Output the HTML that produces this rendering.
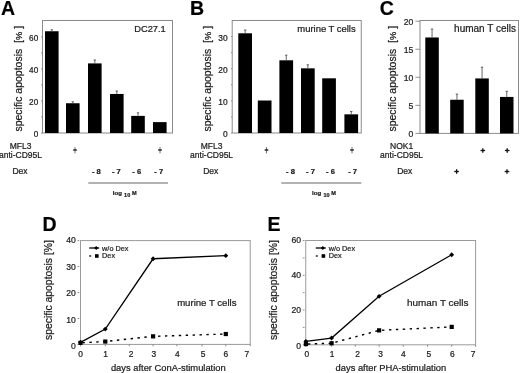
<!DOCTYPE html>
<html><head><meta charset="utf-8"><style>
html,body{margin:0;padding:0;background:#fff;width:520px;height:373px;overflow:hidden}
svg{display:block;filter:blur(0.3px)}
text{font-family:"Liberation Sans", sans-serif;stroke:#222;stroke-width:0.22px;paint-order:stroke}
</style></head><body>
<svg width="520" height="373" viewBox="0 0 520 373">
<rect width="520" height="373" fill="#fff"/>
<text x="1" y="15" font-size="19.5" text-anchor="start" font-weight="bold" fill="#000" >A</text>
<text x="190" y="15" font-size="19.5" text-anchor="start" font-weight="bold" fill="#000" >B</text>
<text x="379.7" y="15" font-size="19.5" text-anchor="start" font-weight="bold" fill="#000" >C</text>
<text x="42.5" y="231" font-size="19.5" text-anchor="start" font-weight="bold" fill="#000" >D</text>
<text x="267.5" y="231" font-size="19.5" text-anchor="start" font-weight="bold" fill="#000" >E</text>
<rect x="42.5" y="20.5" width="130.0" height="112.5" fill="none" stroke="#8a8a8a" stroke-width="1"/>
<line x1="41.0" y1="117.0" x2="42.5" y2="117.0" stroke="#777" stroke-width="0.8" />
<line x1="41.0" y1="85.0" x2="42.5" y2="85.0" stroke="#777" stroke-width="0.8" />
<line x1="41.0" y1="53.0" x2="42.5" y2="53.0" stroke="#777" stroke-width="0.8" />
<line x1="41.0" y1="133.0" x2="42.5" y2="133.0" stroke="#777" stroke-width="0.8" />
<text x="38.2" y="136.9" font-size="8.2" text-anchor="end" font-weight="normal" fill="#1a1a1a" >0</text>
<line x1="41.0" y1="101.0" x2="42.5" y2="101.0" stroke="#777" stroke-width="0.8" />
<text x="38.2" y="104.9" font-size="8.2" text-anchor="end" font-weight="normal" fill="#1a1a1a" >20</text>
<line x1="41.0" y1="69.0" x2="42.5" y2="69.0" stroke="#777" stroke-width="0.8" />
<text x="38.2" y="72.9" font-size="8.2" text-anchor="end" font-weight="normal" fill="#1a1a1a" >40</text>
<line x1="41.0" y1="37.0" x2="42.5" y2="37.0" stroke="#777" stroke-width="0.8" />
<text x="38.2" y="40.9" font-size="8.2" text-anchor="end" font-weight="normal" fill="#1a1a1a" >60</text>
<rect x="45" y="31.239999999999995" width="13.6" height="101.76" fill="#000"/>
<line x1="51.8" y1="29.799999999999997" x2="51.8" y2="31.239999999999995" stroke="#555" stroke-width="0.9" />
<line x1="50.599999999999994" y1="29.799999999999997" x2="53.0" y2="29.799999999999997" stroke="#555" stroke-width="0.9" />
<rect x="66" y="103.24" width="13.6" height="29.760000000000005" fill="#000"/>
<line x1="72.8" y1="101.8" x2="72.8" y2="103.24" stroke="#555" stroke-width="0.9" />
<line x1="71.6" y1="101.8" x2="74.0" y2="101.8" stroke="#555" stroke-width="0.9" />
<rect x="88" y="63.39999999999999" width="13.6" height="69.60000000000001" fill="#000"/>
<line x1="94.8" y1="60.03999999999999" x2="94.8" y2="63.39999999999999" stroke="#555" stroke-width="0.9" />
<line x1="93.6" y1="60.03999999999999" x2="96.0" y2="60.03999999999999" stroke="#555" stroke-width="0.9" />
<rect x="110" y="93.96000000000001" width="13.6" height="39.03999999999999" fill="#000"/>
<line x1="116.8" y1="91.08" x2="116.8" y2="93.96000000000001" stroke="#555" stroke-width="0.9" />
<line x1="115.6" y1="91.08" x2="118.0" y2="91.08" stroke="#555" stroke-width="0.9" />
<rect x="131.2" y="115.88" width="13.6" height="17.120000000000005" fill="#000"/>
<line x1="138.0" y1="112.84" x2="138.0" y2="115.88" stroke="#555" stroke-width="0.9" />
<line x1="136.8" y1="112.84" x2="139.2" y2="112.84" stroke="#555" stroke-width="0.9" />
<rect x="153" y="122.12" width="13.6" height="10.879999999999995" fill="#000"/>
<text x="165.8" y="31.6" font-size="9.3" text-anchor="end" font-weight="normal" fill="#1a1a1a" >DC27.1</text>
<rect x="232.2" y="20.5" width="129.05" height="112.5" fill="none" stroke="#8a8a8a" stroke-width="1"/>
<line x1="231.0" y1="116.91666666666666" x2="232.2" y2="116.91666666666666" stroke="#777" stroke-width="0.8" />
<line x1="231.0" y1="84.75" x2="232.2" y2="84.75" stroke="#777" stroke-width="0.8" />
<line x1="231.0" y1="52.58333333333333" x2="232.2" y2="52.58333333333333" stroke="#777" stroke-width="0.8" />
<line x1="231.0" y1="133.0" x2="232.2" y2="133.0" stroke="#777" stroke-width="0.8" />
<text x="227.7" y="137.1" font-size="8.4" text-anchor="end" font-weight="normal" fill="#1a1a1a" >0</text>
<line x1="231.0" y1="100.83333333333333" x2="232.2" y2="100.83333333333333" stroke="#777" stroke-width="0.8" />
<text x="227.7" y="104.93333333333332" font-size="8.4" text-anchor="end" font-weight="normal" fill="#1a1a1a" >10</text>
<line x1="231.0" y1="68.66666666666666" x2="232.2" y2="68.66666666666666" stroke="#777" stroke-width="0.8" />
<text x="227.7" y="72.76666666666665" font-size="8.4" text-anchor="end" font-weight="normal" fill="#1a1a1a" >20</text>
<line x1="231.0" y1="36.5" x2="232.2" y2="36.5" stroke="#777" stroke-width="0.8" />
<text x="227.7" y="40.6" font-size="8.4" text-anchor="end" font-weight="normal" fill="#1a1a1a" >30</text>
<rect x="238.3" y="33.28333333333333" width="13.7" height="99.71666666666667" fill="#000"/>
<line x1="245.15" y1="30.066666666666663" x2="245.15" y2="33.28333333333333" stroke="#555" stroke-width="0.9" />
<line x1="243.95000000000002" y1="30.066666666666663" x2="246.35" y2="30.066666666666663" stroke="#555" stroke-width="0.9" />
<rect x="257.8" y="100.51166666666666" width="13.7" height="32.488333333333344" fill="#000"/>
<rect x="279.4" y="60.30333333333333" width="13.7" height="72.69666666666667" fill="#000"/>
<line x1="286.25" y1="55.156666666666666" x2="286.25" y2="60.30333333333333" stroke="#555" stroke-width="0.9" />
<line x1="285.05" y1="55.156666666666666" x2="287.45" y2="55.156666666666666" stroke="#555" stroke-width="0.9" />
<rect x="301" y="68.345" width="13.7" height="64.655" fill="#000"/>
<line x1="307.85" y1="64.80666666666667" x2="307.85" y2="68.345" stroke="#555" stroke-width="0.9" />
<line x1="306.65000000000003" y1="64.80666666666667" x2="309.05" y2="64.80666666666667" stroke="#555" stroke-width="0.9" />
<rect x="322.2" y="78.31666666666666" width="13.7" height="54.68333333333334" fill="#000"/>
<rect x="344.4" y="114.34333333333333" width="13.7" height="18.656666666666666" fill="#000"/>
<line x1="351.25" y1="111.44833333333332" x2="351.25" y2="114.34333333333333" stroke="#555" stroke-width="0.9" />
<line x1="350.05" y1="111.44833333333332" x2="352.45" y2="111.44833333333332" stroke="#555" stroke-width="0.9" />
<text x="355.7" y="31.6" font-size="9.45" text-anchor="end" font-weight="normal" fill="#1a1a1a" >murine T cells</text>
<rect x="420" y="20.5" width="98.5" height="112.9" fill="none" stroke="#8a8a8a" stroke-width="1"/>
<line x1="415.4" y1="133.4" x2="420" y2="133.4" stroke="#777" stroke-width="0.8" />
<text x="413.4" y="137.3" font-size="8.6" text-anchor="end" font-weight="normal" fill="#1a1a1a" >0</text>
<line x1="415.4" y1="105.35000000000001" x2="420" y2="105.35000000000001" stroke="#777" stroke-width="0.8" />
<text x="413.4" y="109.25000000000001" font-size="8.6" text-anchor="end" font-weight="normal" fill="#1a1a1a" >5</text>
<line x1="415.4" y1="77.30000000000001" x2="420" y2="77.30000000000001" stroke="#777" stroke-width="0.8" />
<text x="413.4" y="81.20000000000002" font-size="8.6" text-anchor="end" font-weight="normal" fill="#1a1a1a" >10</text>
<line x1="415.4" y1="49.25" x2="420" y2="49.25" stroke="#777" stroke-width="0.8" />
<text x="413.4" y="53.15" font-size="8.6" text-anchor="end" font-weight="normal" fill="#1a1a1a" >15</text>
<line x1="415.4" y1="21.200000000000003" x2="420" y2="21.200000000000003" stroke="#777" stroke-width="0.8" />
<text x="413.4" y="25.1" font-size="8.6" text-anchor="end" font-weight="normal" fill="#1a1a1a" >20</text>
<rect x="425.3" y="37.468999999999994" width="13.5" height="95.93100000000001" fill="#000"/>
<line x1="432.05" y1="29.053999999999988" x2="432.05" y2="37.468999999999994" stroke="#555" stroke-width="0.9" />
<line x1="430.85" y1="29.053999999999988" x2="433.25" y2="29.053999999999988" stroke="#555" stroke-width="0.9" />
<rect x="450.2" y="99.74000000000001" width="13.5" height="33.66" fill="#000"/>
<line x1="456.95" y1="94.13" x2="456.95" y2="99.74000000000001" stroke="#555" stroke-width="0.9" />
<line x1="455.75" y1="94.13" x2="458.15" y2="94.13" stroke="#555" stroke-width="0.9" />
<rect x="475.3" y="78.422" width="13.5" height="54.97800000000001" fill="#000"/>
<line x1="482.05" y1="67.202" x2="482.05" y2="78.422" stroke="#555" stroke-width="0.9" />
<line x1="480.85" y1="67.202" x2="483.25" y2="67.202" stroke="#555" stroke-width="0.9" />
<rect x="500" y="96.935" width="13.5" height="36.465" fill="#000"/>
<line x1="506.75" y1="91.325" x2="506.75" y2="96.935" stroke="#555" stroke-width="0.9" />
<line x1="505.55" y1="91.325" x2="507.95" y2="91.325" stroke="#555" stroke-width="0.9" />
<text x="516" y="31.6" font-size="10" text-anchor="end" font-weight="normal" fill="#1a1a1a" >human T cells</text>
<text transform="translate(21.7,131.6) rotate(-90)" x="0" y="0" font-size="10.5" text-anchor="start" fill="#1a1a1a">specific apoptosis&#160; [<tspan font-size="9.3">%</tspan> ]</text>
<text transform="translate(210.7,131.6) rotate(-90)" x="0" y="0" font-size="10.5" text-anchor="start" fill="#1a1a1a">specific apoptosis&#160; [<tspan font-size="9.3">%</tspan> ]</text>
<text transform="translate(395.7,131.6) rotate(-90)" x="0" y="0" font-size="10.5" text-anchor="start" fill="#1a1a1a">specific apoptosis&#160; [<tspan font-size="9.3">%</tspan> ]</text>
<text transform="translate(52.3,340.0) rotate(-90)" x="0" y="0" font-size="10.4" text-anchor="start" fill="#1a1a1a">specific apoptosis [%]</text>
<text transform="translate(277.3,340.0) rotate(-90)" x="0" y="0" font-size="10.4" text-anchor="start" fill="#1a1a1a">specific apoptosis [%]</text>
<text x="20.5" y="148.9" font-size="8.5" text-anchor="middle" font-weight="normal" fill="#1a1a1a" >MFL3</text>
<text x="20.5" y="158.3" font-size="8.5" text-anchor="middle" font-weight="normal" fill="#1a1a1a" >anti-CD95L</text>
<text x="20" y="174.4" font-size="8.5" text-anchor="middle" font-weight="normal" fill="#1a1a1a" >Dex</text>
<text x="211.6" y="148.9" font-size="8.5" text-anchor="middle" font-weight="normal" fill="#1a1a1a" >MFL3</text>
<text x="211.6" y="158.3" font-size="8.5" text-anchor="middle" font-weight="normal" fill="#1a1a1a" >anti-CD95L</text>
<text x="210.8" y="174.4" font-size="8.5" text-anchor="middle" font-weight="normal" fill="#1a1a1a" >Dex</text>
<text x="401.6" y="148.9" font-size="8.5" text-anchor="middle" font-weight="normal" fill="#1a1a1a" >NOK1</text>
<text x="401.6" y="158.3" font-size="8.5" text-anchor="middle" font-weight="normal" fill="#1a1a1a" >anti-CD95L</text>
<text x="404.8" y="174.4" font-size="8.5" text-anchor="middle" font-weight="normal" fill="#1a1a1a" >Dex</text>
<line x1="75" y1="147" x2="75" y2="153.4" stroke="#666" stroke-width="0.9" />
<line x1="73.2" y1="150" x2="76.8" y2="150" stroke="#222" stroke-width="1.5" />
<line x1="160" y1="147" x2="160" y2="153.4" stroke="#666" stroke-width="0.9" />
<line x1="158.2" y1="150" x2="161.8" y2="150" stroke="#222" stroke-width="1.5" />
<line x1="266.5" y1="147" x2="266.5" y2="153.4" stroke="#666" stroke-width="0.9" />
<line x1="264.7" y1="150" x2="268.3" y2="150" stroke="#222" stroke-width="1.5" />
<line x1="352" y1="147" x2="352" y2="153.4" stroke="#666" stroke-width="0.9" />
<line x1="350.2" y1="150" x2="353.8" y2="150" stroke="#222" stroke-width="1.5" />
<line x1="480.5" y1="150.5" x2="485.1" y2="150.5" stroke="#111" stroke-width="1.3" />
<line x1="482.8" y1="148.2" x2="482.8" y2="152.8" stroke="#111" stroke-width="1.3" />
<line x1="504.9" y1="150.5" x2="509.5" y2="150.5" stroke="#111" stroke-width="1.3" />
<line x1="507.2" y1="148.2" x2="507.2" y2="152.8" stroke="#111" stroke-width="1.3" />
<line x1="454.3" y1="171.5" x2="458.90000000000003" y2="171.5" stroke="#111" stroke-width="1.3" />
<line x1="456.6" y1="169.2" x2="456.6" y2="173.8" stroke="#111" stroke-width="1.3" />
<line x1="504.7" y1="171.5" x2="509.3" y2="171.5" stroke="#111" stroke-width="1.3" />
<line x1="507" y1="169.2" x2="507" y2="173.8" stroke="#111" stroke-width="1.3" />
<text x="91.9" y="174.1" font-size="7.6" text-anchor="start" font-weight="bold" fill="#1a1a1a" >- 8</text>
<text x="111.9" y="174.1" font-size="7.6" text-anchor="start" font-weight="bold" fill="#1a1a1a" >- 7</text>
<text x="132.3" y="174.1" font-size="7.6" text-anchor="start" font-weight="bold" fill="#1a1a1a" >- 6</text>
<text x="154.3" y="174.1" font-size="7.6" text-anchor="start" font-weight="bold" fill="#1a1a1a" >- 7</text>
<text x="286.1" y="174.1" font-size="7.6" text-anchor="start" font-weight="bold" fill="#1a1a1a" >- 8</text>
<text x="306.0" y="174.1" font-size="7.6" text-anchor="start" font-weight="bold" fill="#1a1a1a" >- 7</text>
<text x="326.1" y="174.1" font-size="7.6" text-anchor="start" font-weight="bold" fill="#1a1a1a" >- 6</text>
<text x="348.2" y="174.1" font-size="7.6" text-anchor="start" font-weight="bold" fill="#1a1a1a" >- 7</text>
<line x1="88.3" y1="183" x2="168" y2="183" stroke="#999" stroke-width="1.4" />
<line x1="281.3" y1="183" x2="361.3" y2="183" stroke="#999" stroke-width="1.4" />
<text x="112.8" y="194.6" font-size="6.1" text-anchor="start" font-weight="bold" fill="#1a1a1a" >log</text>
<text x="124.1" y="196.9" font-size="5.5" text-anchor="start" font-weight="bold" fill="#1a1a1a" >10</text>
<text x="131.9" y="194.6" font-size="5.6" text-anchor="start" font-weight="bold" fill="#1a1a1a" >M</text>
<text x="312.0" y="194.6" font-size="6.1" text-anchor="start" font-weight="bold" fill="#1a1a1a" >log</text>
<text x="323.4" y="196.9" font-size="5.5" text-anchor="start" font-weight="bold" fill="#1a1a1a" >10</text>
<text x="331.3" y="194.6" font-size="5.6" text-anchor="start" font-weight="bold" fill="#1a1a1a" >M</text>
<rect x="80.5" y="240.6" width="169.7" height="103.79999999999998" fill="none" stroke="#9a9a9a" stroke-width="1"/>
<line x1="77.5" y1="344.4" x2="79.3" y2="344.4" stroke="#777" stroke-width="0.8" />
<line x1="77.5" y1="318.45" x2="79.3" y2="318.45" stroke="#777" stroke-width="0.8" />
<line x1="77.5" y1="292.5" x2="79.3" y2="292.5" stroke="#777" stroke-width="0.8" />
<line x1="77.5" y1="266.54999999999995" x2="79.3" y2="266.54999999999995" stroke="#777" stroke-width="0.8" />
<line x1="77.5" y1="240.6" x2="79.3" y2="240.6" stroke="#777" stroke-width="0.8" />
<text x="75.7" y="243.1" font-size="8.6" text-anchor="end" font-weight="normal" fill="#1a1a1a" >40</text>
<text x="75.7" y="269.5" font-size="8.6" text-anchor="end" font-weight="normal" fill="#1a1a1a" >30</text>
<text x="75.7" y="295.90000000000003" font-size="8.6" text-anchor="end" font-weight="normal" fill="#1a1a1a" >20</text>
<text x="75.7" y="322.70000000000005" font-size="8.6" text-anchor="end" font-weight="normal" fill="#1a1a1a" >10</text>
<text x="75.7" y="349.1" font-size="8.6" text-anchor="end" font-weight="normal" fill="#1a1a1a" >0</text>
<line x1="80.5" y1="344.4" x2="80.5" y2="346.4" stroke="#777" stroke-width="0.8" />
<line x1="105.3" y1="344.4" x2="105.3" y2="346.4" stroke="#777" stroke-width="0.8" />
<line x1="129.3" y1="344.4" x2="129.3" y2="346.4" stroke="#777" stroke-width="0.8" />
<line x1="153.1" y1="344.4" x2="153.1" y2="346.4" stroke="#777" stroke-width="0.8" />
<line x1="176.9" y1="344.4" x2="176.9" y2="346.4" stroke="#777" stroke-width="0.8" />
<line x1="202" y1="344.4" x2="202" y2="346.4" stroke="#777" stroke-width="0.8" />
<line x1="225.8" y1="344.4" x2="225.8" y2="346.4" stroke="#777" stroke-width="0.8" />
<line x1="250.2" y1="344.4" x2="250.2" y2="346.4" stroke="#777" stroke-width="0.8" />
<text x="80.5" y="357.3" font-size="8.4" text-anchor="middle" font-weight="normal" fill="#1a1a1a" >0</text>
<text x="105.5" y="357.3" font-size="8.4" text-anchor="middle" font-weight="normal" fill="#1a1a1a" >1</text>
<text x="131.1" y="357.3" font-size="8.4" text-anchor="middle" font-weight="normal" fill="#1a1a1a" >2</text>
<text x="153.9" y="357.3" font-size="8.4" text-anchor="middle" font-weight="normal" fill="#1a1a1a" >3</text>
<text x="177.3" y="357.3" font-size="8.4" text-anchor="middle" font-weight="normal" fill="#1a1a1a" >4</text>
<text x="203" y="357.3" font-size="8.4" text-anchor="middle" font-weight="normal" fill="#1a1a1a" >5</text>
<text x="225.8" y="357.3" font-size="8.4" text-anchor="middle" font-weight="normal" fill="#1a1a1a" >6</text>
<text x="246.8" y="357.3" font-size="8.4" text-anchor="middle" font-weight="normal" fill="#1a1a1a" >7</text>
<text x="168.3" y="371.2" font-size="9.35" text-anchor="middle" font-weight="normal" fill="#1a1a1a" >days after ConA-stimulation</text>
<text x="236.5" y="305.9" font-size="9.6" text-anchor="end" font-weight="normal" fill="#1a1a1a" >murine T cells</text>
<polyline points="80.50,342.84 105.30,341.55 153.10,336.36 225.80,334.02" fill="none" stroke="#000" stroke-width="1.4" stroke-dasharray="2.4 4.5" stroke-dashoffset="-2"/>
<rect x="78.4" y="340.74299999999994" width="4.2" height="4.2" fill="#000"/>
<rect x="103.2" y="339.4455" width="4.2" height="4.2" fill="#000"/>
<rect x="151.0" y="334.2555" width="4.2" height="4.2" fill="#000"/>
<rect x="223.70000000000002" y="331.91999999999996" width="4.2" height="4.2" fill="#000"/>
<polyline points="80.50,342.32 105.30,329.09 153.10,258.76 225.80,255.65" fill="none" stroke="#000" stroke-width="1.3"/>
<polygon points="78.10,342.32 80.50,339.92 82.90,342.32 80.50,344.72" fill="#000"/>
<polygon points="102.90,329.09 105.30,326.69 107.70,329.09 105.30,331.49" fill="#000"/>
<polygon points="150.70,258.76 153.10,256.37 155.50,258.76 153.10,261.16" fill="#000"/>
<polygon points="223.40,255.65 225.80,253.25 228.20,255.65 225.80,258.05" fill="#000"/>
<line x1="89.2" y1="248" x2="99.2" y2="248" stroke="#000" stroke-width="1.3" />
<polygon points="94.20,248 96.20,246 98.20,248 96.20,250" fill="#000"/>
<text x="102.10000000000001" y="250.7" font-size="7.3" text-anchor="start" font-weight="normal" fill="#1a1a1a" >w/o Dex</text>
<line x1="89.2" y1="256" x2="91.2" y2="256" stroke="#000" stroke-width="1.3" />
<rect x="95.0" y="254.2" width="3.6" height="3.6" fill="#000"/>
<text x="102.10000000000001" y="258.4" font-size="7.3" text-anchor="start" font-weight="normal" fill="#1a1a1a" >Dex</text>
<rect x="305.75" y="240.5" width="169.85000000000002" height="104.30000000000001" fill="none" stroke="#9a9a9a" stroke-width="1"/>
<line x1="302.75" y1="344.8" x2="304.55" y2="344.8" stroke="#777" stroke-width="0.8" />
<line x1="302.75" y1="327.4166666666667" x2="304.55" y2="327.4166666666667" stroke="#777" stroke-width="0.8" />
<line x1="302.75" y1="310.03333333333336" x2="304.55" y2="310.03333333333336" stroke="#777" stroke-width="0.8" />
<line x1="302.75" y1="292.65" x2="304.55" y2="292.65" stroke="#777" stroke-width="0.8" />
<line x1="302.75" y1="275.26666666666665" x2="304.55" y2="275.26666666666665" stroke="#777" stroke-width="0.8" />
<line x1="302.75" y1="257.8833333333333" x2="304.55" y2="257.8833333333333" stroke="#777" stroke-width="0.8" />
<line x1="302.75" y1="240.5" x2="304.55" y2="240.5" stroke="#777" stroke-width="0.8" />
<text x="300.95" y="243.1" font-size="8.6" text-anchor="end" font-weight="normal" fill="#1a1a1a" >60</text>
<text x="300.95" y="278.1" font-size="8.6" text-anchor="end" font-weight="normal" fill="#1a1a1a" >40</text>
<text x="300.95" y="313.1" font-size="8.6" text-anchor="end" font-weight="normal" fill="#1a1a1a" >20</text>
<text x="300.95" y="349.3" font-size="8.6" text-anchor="end" font-weight="normal" fill="#1a1a1a" >0</text>
<line x1="305.9" y1="344.8" x2="305.9" y2="346.8" stroke="#777" stroke-width="0.8" />
<line x1="331.6" y1="344.8" x2="331.6" y2="346.8" stroke="#777" stroke-width="0.8" />
<line x1="355.3" y1="344.8" x2="355.3" y2="346.8" stroke="#777" stroke-width="0.8" />
<line x1="379.1" y1="344.8" x2="379.1" y2="346.8" stroke="#777" stroke-width="0.8" />
<line x1="403.3" y1="344.8" x2="403.3" y2="346.8" stroke="#777" stroke-width="0.8" />
<line x1="427.6" y1="344.8" x2="427.6" y2="346.8" stroke="#777" stroke-width="0.8" />
<line x1="451.7" y1="344.8" x2="451.7" y2="346.8" stroke="#777" stroke-width="0.8" />
<line x1="475.6" y1="344.8" x2="475.6" y2="346.8" stroke="#777" stroke-width="0.8" />
<text x="306.9" y="357.3" font-size="8.4" text-anchor="middle" font-weight="normal" fill="#1a1a1a" >0</text>
<text x="332.1" y="357.3" font-size="8.4" text-anchor="middle" font-weight="normal" fill="#1a1a1a" >1</text>
<text x="357.7" y="357.3" font-size="8.4" text-anchor="middle" font-weight="normal" fill="#1a1a1a" >2</text>
<text x="380.6" y="357.3" font-size="8.4" text-anchor="middle" font-weight="normal" fill="#1a1a1a" >3</text>
<text x="403.3" y="357.3" font-size="8.4" text-anchor="middle" font-weight="normal" fill="#1a1a1a" >4</text>
<text x="428.9" y="357.3" font-size="8.4" text-anchor="middle" font-weight="normal" fill="#1a1a1a" >5</text>
<text x="452.3" y="357.3" font-size="8.4" text-anchor="middle" font-weight="normal" fill="#1a1a1a" >6</text>
<text x="473.1" y="357.3" font-size="8.4" text-anchor="middle" font-weight="normal" fill="#1a1a1a" >7</text>
<text x="390.9" y="371.2" font-size="9.35" text-anchor="middle" font-weight="normal" fill="#1a1a1a" >days after PHA-stimulation</text>
<text x="468.5" y="306.3" font-size="9.95" text-anchor="end" font-weight="normal" fill="#1a1a1a" >human T cells</text>
<polyline points="305.90,344.10 331.60,343.24 379.10,330.37 451.70,326.90" fill="none" stroke="#000" stroke-width="1.4" stroke-dasharray="2.4 4.5" stroke-dashoffset="-2"/>
<rect x="303.79999999999995" y="342.00466666666665" width="4.2" height="4.2" fill="#000"/>
<rect x="329.5" y="341.1355" width="4.2" height="4.2" fill="#000"/>
<rect x="377.0" y="328.27183333333335" width="4.2" height="4.2" fill="#000"/>
<rect x="449.59999999999997" y="324.79516666666666" width="4.2" height="4.2" fill="#000"/>
<polyline points="305.90,341.32 331.60,338.02 379.10,296.30 451.70,254.75" fill="none" stroke="#000" stroke-width="1.3"/>
<polygon points="303.50,341.32 305.90,338.92 308.30,341.32 305.90,343.72" fill="#000"/>
<polygon points="329.20,338.02 331.60,335.62 334.00,338.02 331.60,340.42" fill="#000"/>
<polygon points="376.70,296.30 379.10,293.90 381.50,296.30 379.10,298.70" fill="#000"/>
<polygon points="449.30,254.75 451.70,252.35 454.10,254.75 451.70,257.15" fill="#000"/>
<line x1="315.8" y1="248" x2="325.8" y2="248" stroke="#000" stroke-width="1.3" />
<polygon points="320.80,248 322.80,246 324.80,248 322.80,250" fill="#000"/>
<text x="328.7" y="250.7" font-size="7.3" text-anchor="start" font-weight="normal" fill="#1a1a1a" >w/o Dex</text>
<line x1="315.8" y1="256" x2="317.8" y2="256" stroke="#000" stroke-width="1.3" />
<rect x="321.6" y="254.2" width="3.6" height="3.6" fill="#000"/>
<text x="328.7" y="258.4" font-size="7.3" text-anchor="start" font-weight="normal" fill="#1a1a1a" >Dex</text>
</svg>
</body></html>
